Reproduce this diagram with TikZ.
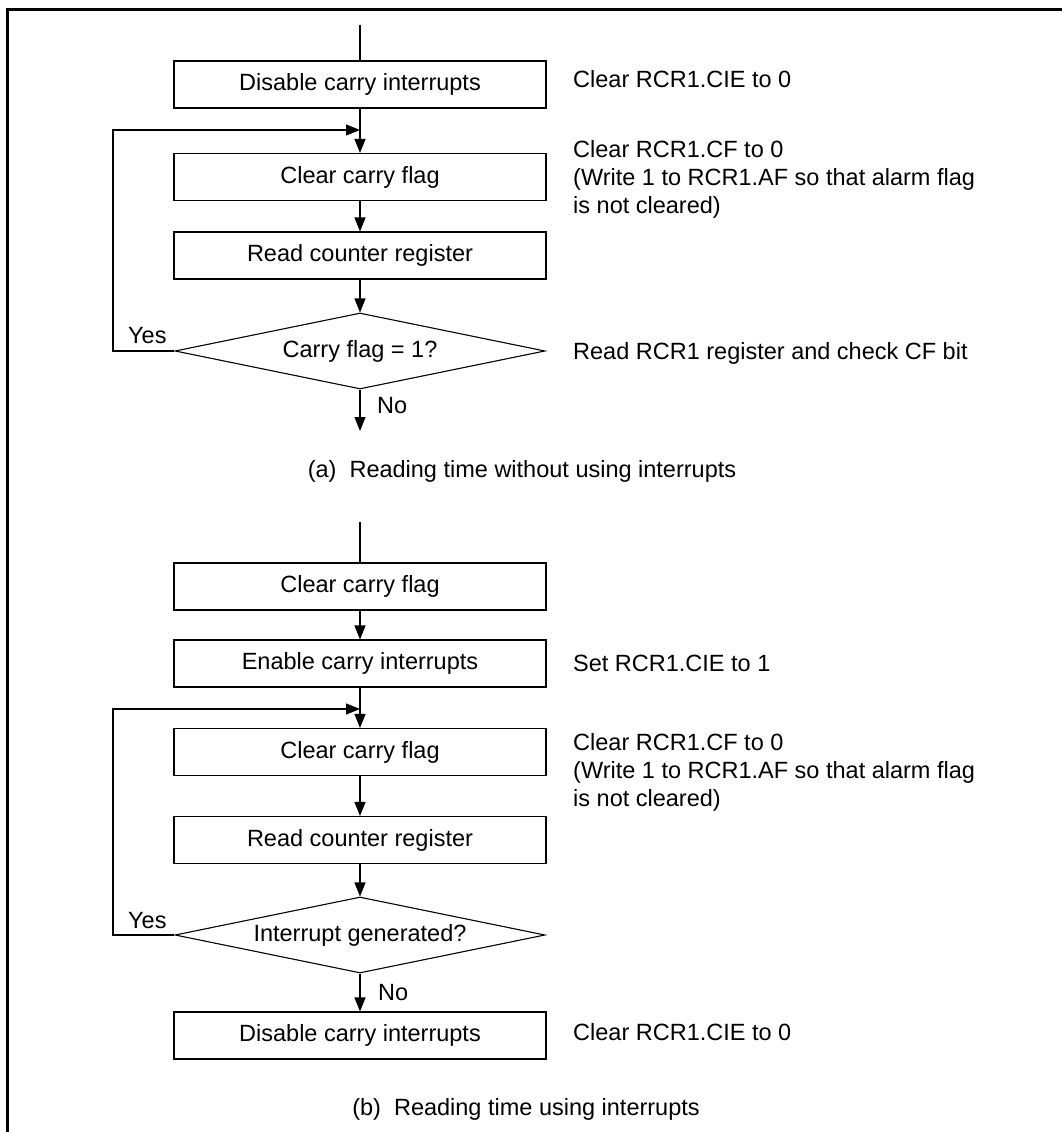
\documentclass[tikz,border=0pt]{standalone}
\usepackage{fontspec}
\setmainfont{Liberation Sans}
\usetikzlibrary{shapes.geometric,arrows.meta}
\begin{document}
\begin{tikzpicture}[x=1pt,y=-1pt,
  font=\fontsize{23.5}{28}\selectfont,
  proc/.style={draw, line width=1.1pt, minimum width=372pt, minimum height=47pt, inner sep=0pt},
  dec/.style={draw, diamond, line width=1.1pt, minimum width=370pt, minimum height=76pt, aspect=4.87, inner sep=0pt},
  note/.style={anchor=base west, inner sep=0pt},
  mnote/.style={anchor=north west, align=left, inner sep=0pt},
  lbl/.style={anchor=base west, inner sep=0pt},
  captxt/.style={anchor=base, inner sep=0pt},
  flow/.style={line width=1.1pt, -{Triangle[length=14pt,width=11pt]}},
  plain/.style={line width=1.1pt},
  framestyle/.style={line width=3pt}]
\useasboundingbox (0,0) rectangle (1062,1132);
% frame
\coordinate (fr1) at (1062,9.5);
\coordinate (fr2) at (7.5,9.5);
\coordinate (fr3) at (7.5,1132);
\draw[framestyle] (fr1) -- (fr2) -- (fr3);

% ---------- (a) ----------
\coordinate (a0) at (360,25);
\node[proc] (a1) at (360,84.5) {Disable carry interrupts};
\coordinate (aj) at (360,130);
\node[proc] (a2) at (360,177) {Clear carry flag};
\node[proc] (a3) at (360,255.5) {Read counter register};
\node[dec]  (a4) at (360,351) {Carry flag = 1?};
\coordinate (aend) at (360,431);

\draw[plain] (a0) -- (a1);
\draw[flow] (a1) -- (a2);
\draw[flow] (a2) -- (a3);
\draw[flow] (a3) -- (a4);
\draw[flow] (a4) -- (aend);
\draw[flow] (a4.west) -- ++(-61.5,0) |- (aj);

\node[lbl] (ayes) at (128,343) {Yes};
\node[lbl] (ano) at (377,413) {No};

\node[note] (an1) at (573,88) {Clear RCR1.CIE to 0};
\node[mnote] (an2) at (573,140) {Clear RCR1.CF to 0\\(Write 1 to RCR1.AF so that alarm flag\\is not cleared)};
\node[note] (an3) at (573,359) {Read RCR1 register and check CF bit};

\node[captxt] (acap) at (522,477) {(a)\ \ Reading time without using interrupts};

% ---------- (b) ----------
\coordinate (b0) at (360,522);
\node[proc] (b1) at (360,586.5) {Clear carry flag};
\node[proc] (b2) at (360,663.5) {Enable carry interrupts};
\coordinate (bj) at (360,709);
\node[proc] (b3) at (360,752) {Clear carry flag};
\node[proc] (b4) at (360,840) {Read counter register};
\node[dec]  (b5) at (360,935) {Interrupt generated?};
\node[proc] (b6) at (360,1035.5) {Disable carry interrupts};

\draw[plain] (b0) -- (b1);
\draw[flow] (b1) -- (b2);
\draw[flow] (b2) -- (b3);
\draw[flow] (b3) -- (b4);
\draw[flow] (b4) -- (b5);
\draw[flow] (b5) -- (b6);
\draw[flow] (b5.west) -- ++(-61.5,0) |- (bj);

\node[lbl] (byes) at (128,928) {Yes};
\node[lbl] (bno) at (378,1000) {No};

\node[note] (bn1) at (573,671) {Set RCR1.CIE to 1};
\node[mnote] (bn2) at (573,733) {Clear RCR1.CF to 0\\(Write 1 to RCR1.AF so that alarm flag\\is not cleared)};
\node[note] (bn3) at (573,1040) {Clear RCR1.CIE to 0};

\node[captxt] (bcap) at (526,1115) {(b)\ \ Reading time using interrupts};
\end{tikzpicture}
\end{document}
